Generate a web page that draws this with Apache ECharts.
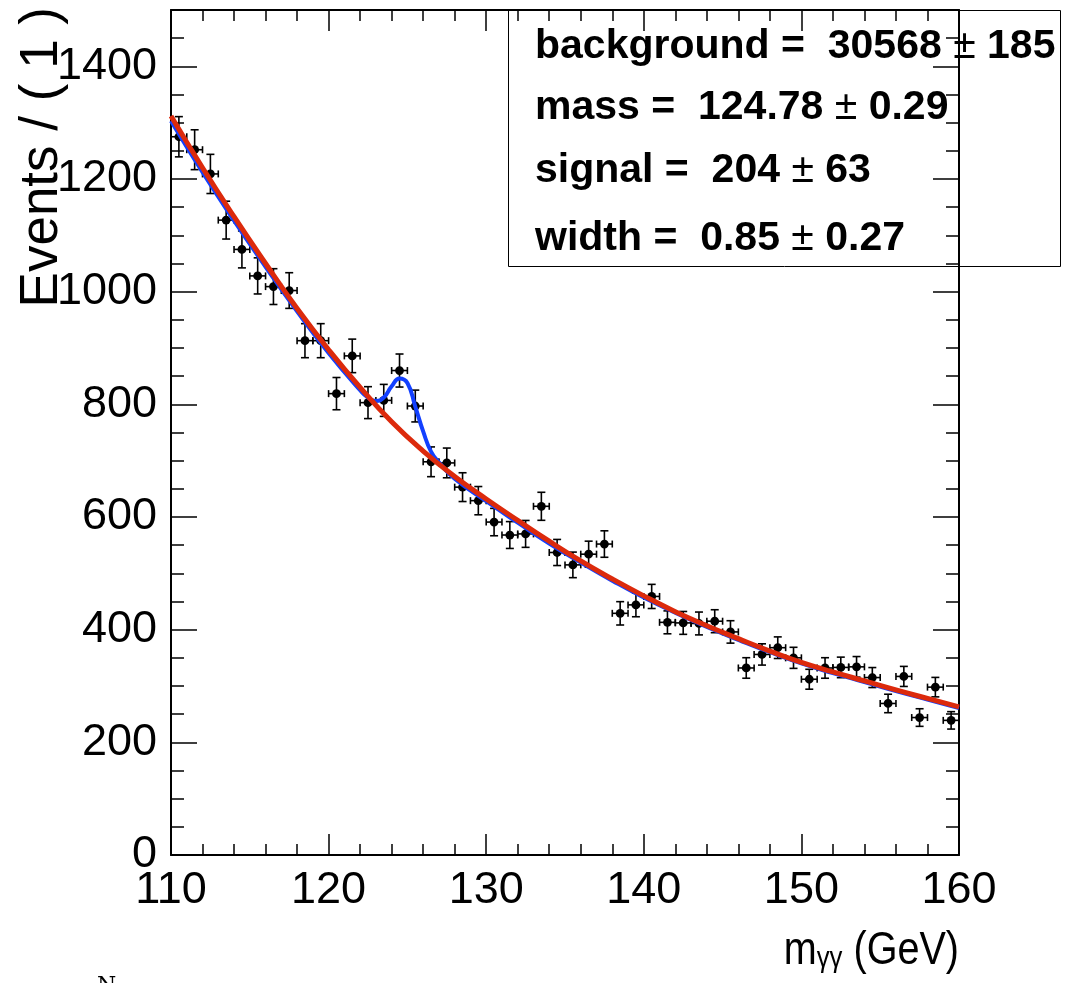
<!DOCTYPE html>
<html>
<head>
<meta charset="utf-8">
<script src="https://cdn.jsdelivr.net/npm/echarts@6/dist/echarts.min.js"></script>
<style>
html,body{margin:0;padding:0;background:#fff;}
#chart{width:1074px;height:983px;}
</style>
</head>
<body>
<div id="chart"></div>
<script>
// ---- data ----
const massBins = [110.5,111.5,112.5,113.5,114.5,115.5,116.5,117.5,118.5,119.5,
                  120.5,121.5,122.5,123.5,124.5,125.5,126.5,127.5,128.5,129.5,
                  130.5,131.5,132.5,133.5,134.5,135.5,136.5,137.5,138.5,139.5,
                  140.5,141.5,142.5,143.5,144.5,145.5,146.5,147.5,148.5,149.5,
                  150.5,151.5,152.5,153.5,154.5,155.5,156.5,157.5,158.5,159.5];
const eventCounts = [1275,1252,1209,1127,1075,1028,1009,1002,913,913,
                     819,886,803,807,860,797,698,696,653,629,
                     591,568,570,619,537,515,534,552,429,444,
                     459,413,412,411,415,396,332,356,368,350,
                     312,332,333,334,315,269,317,244,298,239];
const binHalfWidth = 0.5;

// background-only fit (red)
const bkgCurveX = [110,112,114,116,118,120,122,124,126,128,130,132,134,136,138,140,142,144,146,148,150,152,154,156,158,160];
const bkgCurveY = [1312,1220,1133,1050,970,897,830,769,717,672,632,594,557,522,490,460,432,407,384,362,342,325,309,293,278,263];

// signal + background fit (blue)
const sbCurveX = [110,112,114,116,118,120,122,122.5,123,123.5,124,124.5,125,125.5,126,126.5,127,128,130,132,134,136,138,140,142,144,146,148,150,152,154,156,158,160];
const sbCurveY = [1303,1212,1126,1044,965,891,825,812,806,812,832,846,838,796,752,716,697,668,628,590,553,519,487,457,430,405,382,360,340,323,307,291,276,261];

const xTickLabels = [110,120,130,140,150,160];
const yTickLabels = [0,200,400,600,800,1000,1200,1400];

// stat box: [name, value, error]
const statNames  = ['background', 'mass', 'signal', 'width'];
const statValues = ['30568', '124.78', '204', '0.85'];
const statErrors = ['185', '0.29', '63', '0.27'];
const yTitle = 'Events / ( 1 )';

// ---- chart ----
const FONT = "'Liberation Sans', Arial, Helvetica, sans-serif";
const chart = echarts.init(document.getElementById('chart'), null, {renderer:'canvas'});

const xMin = xTickLabels[0], xMax = xTickLabels[xTickLabels.length-1];
const xStep = xTickLabels[1]-xTickLabels[0];
const yStep = yTickLabels[1]-yTickLabels[0];

function xAxisDef(pos, showLabel){
  return {
    type:'value', position:pos, min:xMin, max:xMax, interval:xStep,
    axisLine:{show:true, onZero:false, lineStyle:{color:'#000', width:2}},
    axisTick:{show:true, inside:true, length:21, lineStyle:{color:'#000', width:1.5}},
    minorTick:{show:true, splitNumber:5, length:11, lineStyle:{color:'#000', width:1.5}},
    splitLine:{show:false}, minorSplitLine:{show:false},
    axisLabel:{show:showLabel, fontSize:45, fontFamily:FONT, color:'#000', margin:13, formatter:(v)=>String(v)}
  };
}
function yAxisDef(pos, major){
  return {
    type:'value', position:pos, min:0, max:1500, interval: major ? yStep : yStep/4,
    axisLine:{show:major, onZero:false, lineStyle:{color:'#000', width:2}},
    axisTick:{show:true, inside:true, length: major ? 26 : 13, lineStyle:{color:'#000', width:1.5}},
    splitLine:{show:false},
    axisLabel:{show: major && pos==='left', showMaxLabel:false, fontSize:45, fontFamily:FONT, color:'#000', margin:14,
               formatter:(v)=>String(v)}
  };
}

function renderPoint(params, api){
  const m = api.value(0), n = api.value(1), err = api.value(2);
  const c = api.coord([m, n]);
  const l = api.coord([m - binHalfWidth, n]), r = api.coord([m + binHalfWidth, n]);
  const t = api.coord([m, n + err]), b = api.coord([m, n - err]);
  const st = {stroke:'#000', lineWidth:1.6};
  const seg = (x1,y1,x2,y2)=>({type:'line', shape:{x1:x1,y1:y1,x2:x2,y2:y2}, style:st});
  return {type:'group', children:[
    seg(l[0],l[1],r[0],r[1]),
    seg(t[0],t[1],b[0],b[1]),
    seg(t[0]-4,t[1],t[0]+4,t[1]),
    seg(b[0]-4,b[1],b[0]+4,b[1]),
    seg(l[0],l[1]-3.5,l[0],l[1]+3.5),
    seg(r[0],r[1]-3.5,r[0],r[1]+3.5),
    {type:'circle', shape:{cx:c[0], cy:c[1], r:4.4}, style:{fill:'#000'}}
  ]};
}

const pointData = massBins.map((m,i)=>[m, eventCounts[i], Math.sqrt(eventCounts[i])]);

const statY = [47, 108, 171, 239];
const statGraphics = statNames.map((s,i)=>({
  type:'text', x:535, y:statY[i], z:10,
  style:{
    text:'{b|' + s + ' =  ' + statValues[i] + ' }{p|\u00B1}{b| ' + statErrors[i] + '}',
    align:'left', verticalAlign:'middle', fill:'#000',
    rich:{
      b:{fontSize:41, fontWeight:'bold', fontFamily:FONT, fill:'#000', lineHeight:44},
      p:{fontSize:41, fontWeight:'normal', fontFamily:FONT, fill:'#000', lineHeight:44}
    }
  }
}));

const option = {
  animation:false,
  backgroundColor:'#fff',
  grid:{left:171, right:115, top:10, bottom:128, containLabel:false},
  xAxis:[xAxisDef('bottom', true), xAxisDef('top', false)],
  yAxis:[yAxisDef('left', true), yAxisDef('left', false), yAxisDef('right', true), yAxisDef('right', false)],
  series:[
    {type:'custom', xAxisIndex:0, yAxisIndex:0, data:pointData, encode:{x:0, y:1}, renderItem:renderPoint, z:2, clip:false},
    {type:'line', xAxisIndex:0, yAxisIndex:0, data:sbCurveX.map((x,i)=>[x, sbCurveY[i]]), smooth:true, showSymbol:false,
     lineStyle:{color:'#1240ff', width:4}, z:3},
    {type:'line', xAxisIndex:0, yAxisIndex:0, data:bkgCurveX.map((x,i)=>[x, bkgCurveY[i]]), smooth:true, showSymbol:false,
     lineStyle:{color:'#dc2a0c', width:5}, z:4}
  ],
  graphic:[
    {type:'rect', shape:{x:508.5, y:10.5, width:552, height:256}, style:{fill:'none', stroke:'#000', lineWidth:1}, z:9},
    ...statGraphics,
    {type:'text', x:42, y:7, rotation:Math.PI/2, z:10,
     style:{text:yTitle, font:"53px 'Liberation Sans', Arial, sans-serif", fill:'#000', align:'right', verticalAlign:'middle'}},
    {type:'text', x:959, y:951, z:10, scaleX:0.86,
     style:{text:'{a|m}{s|\u03B3\u03B3}{a| (GeV)}', align:'right', verticalAlign:'middle', fill:'#000',
       rich:{
         a:{fontSize:46, fontFamily:FONT, lineHeight:46, fill:'#000'},
         s:{fontSize:30, fontFamily:FONT, lineHeight:16, verticalAlign:'bottom', fill:'#000'}
       }}},
    {type:'text', x:97, y:975, z:10, style:{text:'N', font:"22px 'DejaVu Serif', serif", fill:'#000', align:'left', verticalAlign:'top'}}
  ]
};
chart.setOption(option);
</script>
</body>
</html>
